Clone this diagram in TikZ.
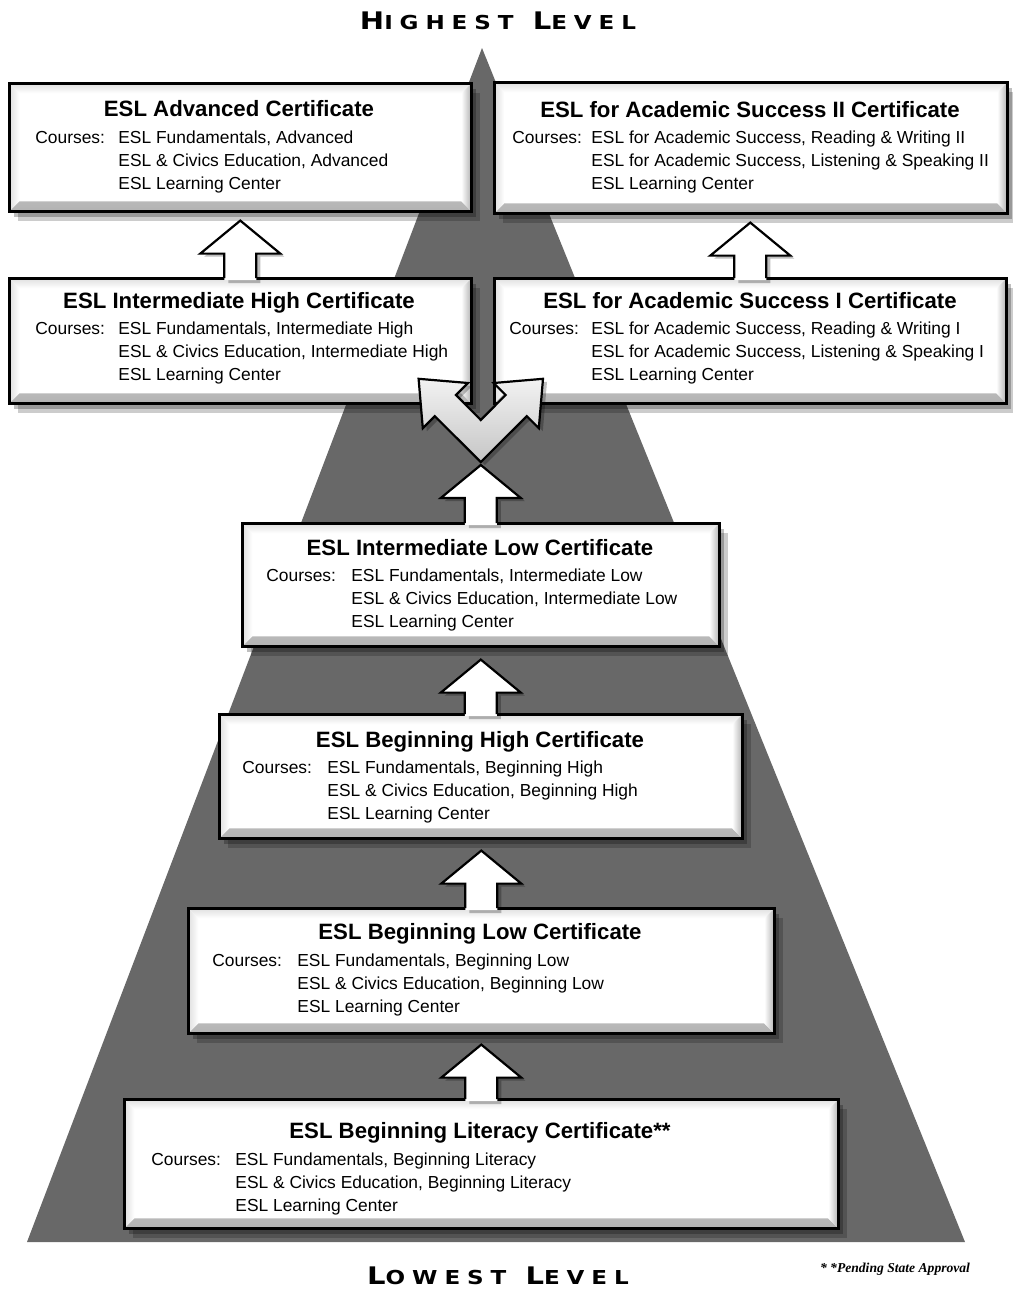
\documentclass[tikz,border=0pt]{standalone}
\usepackage{fontspec}
\usepackage{graphicx}
\setmainfont{Liberation Sans}
\newfontfamily\notefont{Liberation Serif}
\newfontfamily\levelfont[LetterSpace=30]{DejaVu Sans}
\usepackage{xcolor}
\definecolor{pyramid}{RGB}{104,104,104}
\usepackage{tikz}
\usetikzlibrary{calc}

\newcommand{\courses}[4]{%
  \begin{tabular}[t]{@{}l@{}l@{}}
  \makebox[#1][l]{Courses:} & #2\\
  & #3\\
  & #4
  \end{tabular}}
\newcommand{\levelword}[2]{{\fontsize{12.1pt}{14pt}\selectfont #1}{\fontsize{9.6pt}{10pt}\selectfont #2}}
\newcommand{\levelline}[4]{\scalebox{1.2}[1]{\levelfont\bfseries\levelword{#1}{#2}\hspace{8pt}\levelword{#3}{#4}}}
\newcommand{\steparrow}[3]{%
  \fill[white, preaction={fill=black, opacity=.25, transform canvas={xshift=2pt, yshift=-1.5pt}}]
    ($(#1.north)+(-16,3)$) -- ($(#1.north |- #2)+(-16,#3+33)$) -- ($(#1.north |- #2)+(-40,#3+33)$)
    -- ($(#1.north |- #2)+(0,#3)$) -- ($(#1.north |- #2)+(40,#3+33)$) -- ($(#1.north |- #2)+(16,#3+33)$)
    -- ($(#1.north)+(16,3)$) -- cycle;
  \draw[arrowline] ($(#1.north)+(-16,1)$) -- ($(#1.north |- #2)+(-16,#3+33)$) -- ($(#1.north |- #2)+(-40,#3+33)$)
    -- ($(#1.north |- #2)+(0,#3)$) -- ($(#1.north |- #2)+(40,#3+33)$) -- ($(#1.north |- #2)+(16,#3+33)$)
    -- ($(#1.north)+(16,1)$);}

\begin{document}
\begin{tikzpicture}[x=0.5pt, y=-0.5pt,
  certbox/.style={rectangle, anchor=north west, inner sep=0pt, fill=white, draw=black, line width=1.3pt,
    preaction={fill=black, opacity=.2, transform canvas={xshift=4.5pt, yshift=-5pt}},
    preaction={fill=black, opacity=.25, transform canvas={xshift=2.5pt, yshift=-3pt}},
    path picture={
      \shade[top color=white, bottom color=gray!60] let \p1=(path picture bounding box.south west), \p2=(path picture bounding box.north east) in
        (\x1,\y1) -- (\x2,\y1) -- (\x2-5pt,\y1+5pt) -- (\x1+5pt,\y1+5pt) -- cycle;
      \shade[left color=white, right color=gray!60] let \p1=(path picture bounding box.south west), \p2=(path picture bounding box.north east) in
        (\x2,\y1) -- (\x2,\y2) -- (\x2-5pt,\y2-5pt) -- (\x2-5pt,\y1+5pt) -- cycle;
      \shade[top color=gray!25, bottom color=white] let \p1=(path picture bounding box.south west), \p2=(path picture bounding box.north east) in
        (\x1,\y2) -- (\x2,\y2) -- (\x2-5pt,\y2-5pt) -- (\x1+5pt,\y2-5pt) -- cycle;
      \shade[left color=gray!25, right color=white] let \p1=(path picture bounding box.south west), \p2=(path picture bounding box.north east) in
        (\x1,\y1) -- (\x1,\y2) -- (\x1+5pt,\y2-5pt) -- (\x1+5pt,\y1+5pt) -- cycle;
    }},
  certtitle/.style={font=\fontsize{11.1pt}{13pt}\selectfont\bfseries, anchor=base, inner sep=0pt},
  certcourses/.style={font=\fontsize{8.7pt}{11.5pt}\selectfont, anchor=base west, inner sep=0pt},
  arrowline/.style={draw=black, line width=1.1pt, line join=miter},
  ]
\useasboundingbox (0,0) rectangle (1012,1290);
\fill[pyramid] (482,48) -- (965,1242) -- (27,1242) -- cycle;

\node[certbox, minimum width=231pt, minimum height=64pt] (adv) at (8,82) {};
\node[certtitle] (advT) at (239,116) {ESL Advanced Certificate};
\node[certcourses] (advC) at (35,143) {\courses{41.5pt}{ESL Fundamentals, Advanced}{ESL \& Civics Education, Advanced}{ESL Learning Center}};

\node[certbox, minimum width=256.5pt, minimum height=65.5pt] (acad2) at (493,81) {};
\node[certtitle] (acad2T) at (750,117) {ESL for Academic Success II Certificate};
\node[certcourses] (acad2C) at (512,143) {\courses{39.5pt}{ESL for Academic Success, Reading \& Writing II}{ESL for Academic Success, Listening \& Speaking II}{ESL Learning Center}};

\node[certbox, minimum width=231pt, minimum height=62.5pt] (interhigh) at (8,277) {};
\node[certtitle] (interhighT) at (239,308) {ESL Intermediate High Certificate};
\node[certcourses] (interhighC) at (35,334) {\courses{41.5pt}{ESL Fundamentals, Intermediate High}{ESL \& Civics Education, Intermediate High}{ESL Learning Center}};

\node[certbox, minimum width=256pt, minimum height=62.5pt] (acad1) at (493,277) {};
\node[certtitle] (acad1T) at (750,308) {ESL for Academic Success I Certificate};
\node[certcourses] (acad1C) at (509,334) {\courses{41pt}{ESL for Academic Success, Reading \& Writing I}{ESL for Academic Success, Listening \& Speaking I}{ESL Learning Center}};

\node[certbox, minimum width=238.5pt, minimum height=61.5pt] (intlow) at (241,522) {};
\node[certtitle] (intlowT) at (480,555) {ESL Intermediate Low Certificate};
\node[certcourses] (intlowC) at (266,581) {\courses{42.5pt}{ESL Fundamentals, Intermediate Low}{ESL \& Civics Education, Intermediate Low}{ESL Learning Center}};

\node[certbox, minimum width=261.5pt, minimum height=62pt] (beghigh) at (218,713) {};
\node[certtitle] (beghighT) at (480,747) {ESL Beginning High Certificate};
\node[certcourses] (beghighC) at (242,773) {\courses{42.5pt}{ESL Fundamentals, Beginning High}{ESL \& Civics Education, Beginning High}{ESL Learning Center}};

\node[certbox, minimum width=293pt, minimum height=62.5pt] (beglow) at (187,907) {};
\node[certtitle] (beglowT) at (480,939) {ESL Beginning Low Certificate};
\node[certcourses] (beglowC) at (212,966) {\courses{42.5pt}{ESL Fundamentals, Beginning Low}{ESL \& Civics Education, Beginning Low}{ESL Learning Center}};

\node[certbox, minimum width=357pt, minimum height=64.5pt] (beglit) at (123,1098) {};
\node[certtitle] (beglitT) at (480,1138) {ESL Beginning Literacy Certificate**};
\node[certcourses] (beglitC) at (151,1165) {\courses{42pt}{ESL Fundamentals, Beginning Literacy}{ESL \& Civics Education, Beginning Literacy}{ESL Learning Center}};

\coordinate (fork) at ($(intlow.north)+(0,-60)$);
\steparrow{interhigh}{adv.south}{8}
\steparrow{acad1}{acad2.south}{8}
\steparrow{intlow}{fork}{3}
\steparrow{beghigh}{intlow.south}{12}
\steparrow{beglow}{beghigh.south}{11}
\steparrow{beglit}{beglow.south}{10}

\begin{scope}[shift={(fork)}]
\draw[arrowline, top color=gray!10, bottom color=gray!45, preaction={fill=black, opacity=.25, transform canvas={xshift=2pt, yshift=-1.5pt}}]
  (0,0) -- (-46,-45.8) -- (-58,-33.8) -- (-62.2,-83.2) -- (-12.8,-79) -- (-24.8,-67) -- (0,-42)
  -- (24.8,-67) -- (12.8,-79) -- (62.2,-83.2) -- (58,-33.8) -- (46,-45.8) -- cycle;
\end{scope}

\node[anchor=base, inner sep=0pt] (highest) at (498,29) {\levelline{H}{IGHEST}{L}{EVEL}};
\node[anchor=base, inner sep=0pt] (lowest) at (498,1284) {\levelline{L}{OWEST}{L}{EVEL}};
\node[anchor=base, inner sep=0pt] (pending) at (895,1272) {\notefont\bfseries\itshape\fontsize{6.8pt}{8pt}\selectfont * *Pending State Approval};
\end{tikzpicture}
\end{document}
